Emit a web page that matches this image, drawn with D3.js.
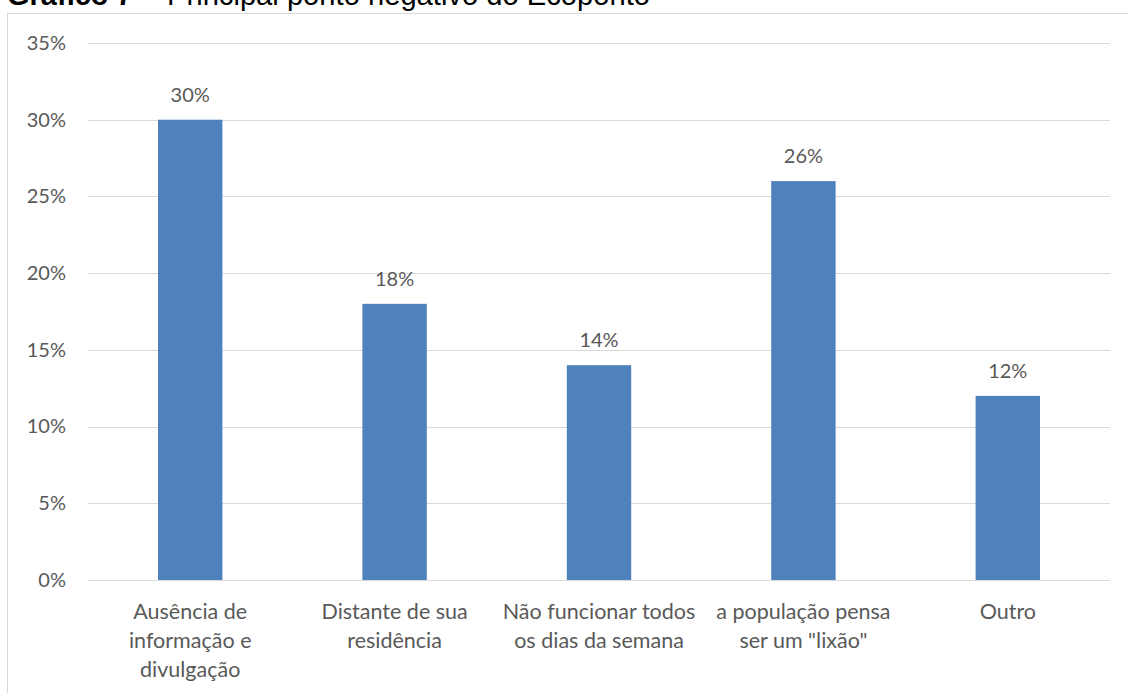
<!DOCTYPE html>
<html>
<head>
<meta charset="utf-8">
<script src="https://cdn.jsdelivr.net/npm/d3@7"></script>
<style>
  html, body { margin: 0; padding: 0; background: #fff; }
  svg { display: block; }
</style>
</head>
<body>
<div id="chart"></div>
<script>
// Data
const categories = [
  ["Ausência de", "informação e", "divulgação"],
  ["Distante de sua", "residência"],
  ["Não funcionar todos", "os dias da semana"],
  ["a população pensa", "ser um \"lixão\""],
  ["Outro"]
];
const values = [0.30, 0.18, 0.14, 0.26, 0.12];
const yTicks = [0, 0.05, 0.10, 0.15, 0.20, 0.25, 0.30, 0.35];

const W = 1128, H = 693;
const margin = { left: 88, right: 18, top: 43, bottom: 113 };
const font = "Lato, 'Open Sans', sans-serif";
const textColor = "#595959";

const svg = d3.select("#chart").append("svg")
  .attr("width", W).attr("height", H);

// Title (runs above the frame)
const titleFont = "Arial, 'Liberation Sans', sans-serif";
svg.append("text")
  .attr("x", 7).attr("y", 5)
  .attr("font-family", titleFont).attr("font-size", 29)
  .attr("font-weight", "bold").attr("fill", "#000")
  .text("Gráfico 7");
svg.append("text")
  .attr("x", 138).attr("y", 5)
  .attr("font-family", titleFont).attr("font-size", 29).attr("fill", "#000")
  .text("–");
svg.append("text")
  .attr("x", 167).attr("y", 5)
  .attr("font-family", titleFont).attr("font-size", 29).attr("fill", "#000")
  .attr("textLength", 483).attr("lengthAdjust", "spacingAndGlyphs")
  .text("Principal ponto negativo do Ecoponto");

// Chart frame
svg.append("rect")
  .attr("x", 7.5).attr("y", 13.5)
  .attr("width", W + 10).attr("height", H + 10)
  .attr("fill", "none").attr("stroke", "#D9D9D9").attr("stroke-width", 1);

const x = d3.scaleBand()
  .domain(d3.range(values.length))
  .range([margin.left, W - margin.right])
  .paddingInner(0.685).paddingOuter(0.3425);

const y = d3.scaleLinear()
  .domain([0, 0.35])
  .range([H - margin.bottom, margin.top]);

// Gridlines
svg.append("g")
  .selectAll("line")
  .data(yTicks)
  .join("line")
  .attr("x1", margin.left).attr("x2", W - margin.right)
  .attr("y1", d => Math.round(y(d)) + 0.5).attr("y2", d => Math.round(y(d)) + 0.5)
  .attr("stroke", "#D9D9D9").attr("stroke-width", 1);

// Y axis labels
const yAxis = d3.axisLeft(y).tickValues(yTicks)
  .tickFormat(d3.format(".0%")).tickSize(0).tickPadding(22);
const gy = svg.append("g")
  .attr("transform", `translate(${margin.left},0)`)
  .call(yAxis);
gy.select(".domain").remove();
gy.selectAll("text")
  .attr("font-family", font).attr("font-size", 20).attr("fill", textColor);

// Bars
svg.append("g")
  .selectAll("rect")
  .data(values)
  .join("rect")
  .attr("x", (d, i) => x(i))
  .attr("width", x.bandwidth())
  .attr("y", d => y(d))
  .attr("height", d => y(0) - y(d))
  .attr("fill", "#4F81BD");

// Value labels
svg.append("g")
  .selectAll("text")
  .data(values)
  .join("text")
  .attr("x", (d, i) => x(i) + x.bandwidth() / 2)
  .attr("y", d => y(d) - 18)
  .attr("text-anchor", "middle")
  .attr("font-family", font).attr("font-size", 20).attr("fill", textColor)
  .text(d3.format(".0%"));

// Category labels
const xAxis = d3.axisBottom(x).tickSize(0).tickFormat("");
const gx = svg.append("g")
  .attr("transform", `translate(0,${H - margin.bottom})`)
  .call(xAxis);
gx.select(".domain").remove();
gx.selectAll(".tick").each(function(i) {
  const t = d3.select(this).append("text")
    .attr("text-anchor", "middle")
    .attr("font-family", font).attr("font-size", 21.5).attr("fill", textColor);
  categories[i].forEach((line, k) => {
    t.append("tspan").attr("x", 0).attr("y", 39 + k * 29).text(line);
  });
});
</script>
</body>
</html>
